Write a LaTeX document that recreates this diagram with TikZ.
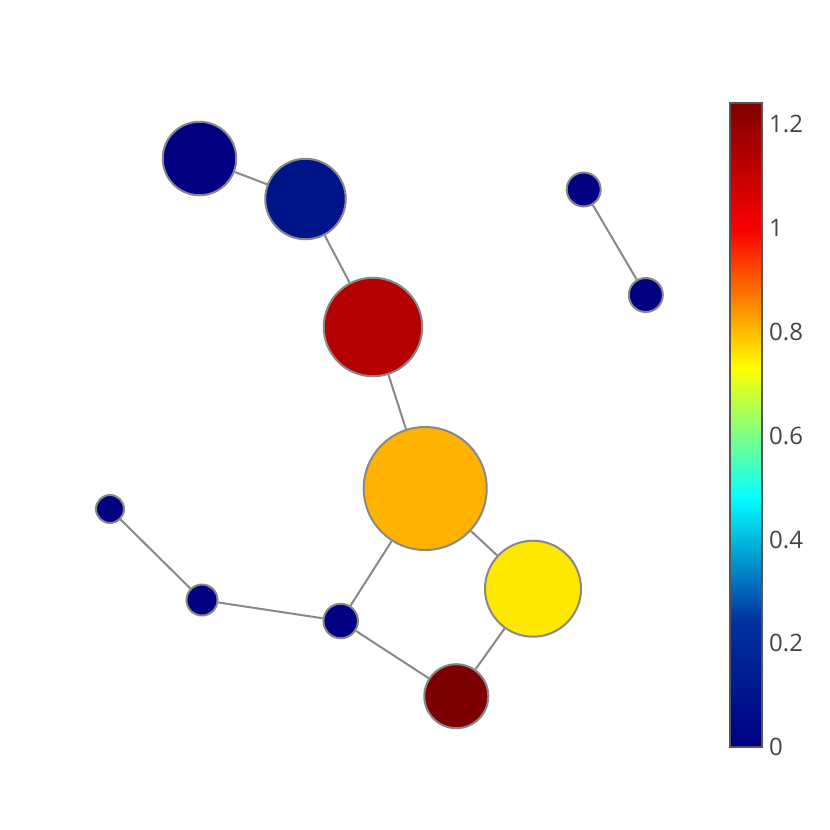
\documentclass[tikz,border=0pt]{standalone}
\usepackage{fontspec}
\setmainfont{Open Sans}
\definecolor{edgegray}{HTML}{888888}
\definecolor{bargray}{HTML}{555555}
\definecolor{ticktext}{HTML}{444444}
\definecolor{jA}{RGB}{0,0,131}
\definecolor{jB}{RGB}{0,50,160}
\definecolor{jC}{RGB}{5,255,255}
\definecolor{jD}{RGB}{255,255,0}
\definecolor{jE}{RGB}{250,0,0}
\definecolor{jF}{RGB}{128,0,0}
\definecolor{navy}{RGB}{0,0,128}
\definecolor{ntwo}{RGB}{0,20,137}
\definecolor{nthree}{RGB}{180,0,0}
\definecolor{nfour}{RGB}{255,179,0}
\definecolor{nfive}{RGB}{255,232,0}
\definecolor{nsix}{RGB}{125,0,0}
\tikzset{
  vtx/.style={circle, draw=edgegray, line width=2pt, inner sep=0pt, minimum size=#1},
  edge/.style={draw=edgegray, line width=2pt},
  ticklab/.style={anchor=west, text=ticktext, font=\fontsize{24}{28}\selectfont, inner sep=0pt}
}
\begin{document}
\begin{tikzpicture}[x=1pt,y=-1pt]
\useasboundingbox (0,0) rectangle (830,830);
% nodes
\node[vtx=73.5, fill=navy] (n1) at (199.5,158.5) {};
\node[vtx=80.5, fill=ntwo] (n2) at (305.5,199) {};
\node[vtx=98.5, fill=nthree] (n3) at (373,327) {};
\node[vtx=123, fill=nfour] (n4) at (425.2,488.5) {};
\node[vtx=96, fill=nfive] (n5) at (533,588.7) {};
\node[vtx=64, fill=nsix] (n6) at (456.3,696.2) {};
\node[vtx=34.5, fill=navy] (n7) at (340.7,621) {};
\node[vtx=31, fill=navy] (n8) at (202,600) {};
\node[vtx=28, fill=navy] (n9) at (110,509) {};
\node[vtx=34, fill=navy] (n10) at (583.7,189.5) {};
\node[vtx=34, fill=navy] (n11) at (645.8,295) {};
% edges
\draw[edge] (n1) -- (n2);
\draw[edge] (n2) -- (n3);
\draw[edge] (n3) -- (n4);
\draw[edge] (n4) -- (n5);
\draw[edge] (n4) -- (n7);
\draw[edge] (n5) -- (n6);
\draw[edge] (n6) -- (n7);
\draw[edge] (n7) -- (n8);
\draw[edge] (n8) -- (n9);
\draw[edge] (n10) -- (n11);
% colorbar
\shade[bottom color=jA, top color=jB] (730,747) rectangle (762,620);
\shade[bottom color=jB, top color=jC] (730,620.5) rectangle (762,497);
\shade[bottom color=jC, top color=jD] (730,497.5) rectangle (762,368);
\shade[bottom color=jD, top color=jE] (730,368.5) rectangle (762,230);
\shade[bottom color=jE, top color=jF] (730,230.5) rectangle (762,103);
\draw[bargray, line width=2pt] (730,103) rectangle (762,747);
\node[ticklab] (t0) at (769,747) {0};
\node[ticklab] (t1) at (769,643) {0.2};
\node[ticklab] (t2) at (769,539.5) {0.4};
\node[ticklab] (t3) at (769,436) {0.6};
\node[ticklab] (t4) at (769,332) {0.8};
\node[ticklab] (t5) at (769,228) {1};
\node[ticklab] (t6) at (769,124) {1.2};
\end{tikzpicture}
\end{document}
